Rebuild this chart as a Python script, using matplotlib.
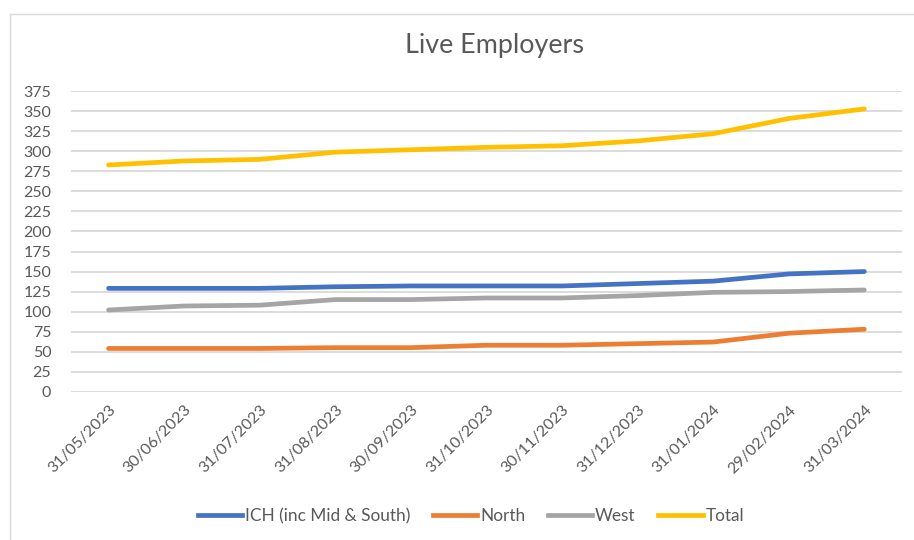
import numpy as np
import matplotlib.pyplot as plt
from matplotlib.lines import Line2D

plt.rcParams['font.family'] = ['Lato', 'DejaVu Sans']

dates = ["31/05/2023", "30/06/2023", "31/07/2023", "31/08/2023", "30/09/2023",
         "31/10/2023", "30/11/2023", "31/12/2023", "31/01/2024", "29/02/2024",
         "31/03/2024"]
ich = [129, 129, 129, 131, 132, 132, 132, 135, 138, 147, 150]
north = [54, 54, 54, 55, 55, 58, 58, 60, 62, 73, 78]
west = [102, 107, 108, 115, 115, 117, 117, 120, 124, 125, 127]
total = [283, 288, 290, 299, 302, 305, 307, 313, 322, 341, 353]

series = [("ICH (inc Mid & South)", ich, "#4472C4"),
          ("North", north, "#ED7D31"),
          ("West", west, "#A5A5A5"),
          ("Total", total, "#FFC000")]

fig = plt.figure(figsize=(9.14, 5.4), dpi=100)
ax = fig.add_axes([0.0774, 0.2746, 0.9096, 0.5564])

x = np.arange(len(dates))
for name, vals, col in series:
    ax.plot(x, vals, color=col, lw=3.4, solid_capstyle='round',
            solid_joinstyle='round', label=name)

ax.set_xlim(-0.5, len(dates) - 0.5)
ax.set_ylim(0, 375)
ax.set_yticks(np.arange(0, 376, 25))
ax.set_xticks(x)
ax.set_xticklabels(dates, rotation=45, ha='right', rotation_mode='anchor')
ax.grid(axis='y', color='#D9D9D9', lw=1.3)
ax.set_axisbelow(True)
for s in ax.spines.values():
    s.set_visible(False)
ax.tick_params(axis='both', length=0, colors='#595959', labelsize=11.5)
ax.tick_params(axis='y', pad=14)
ax.tick_params(axis='x', pad=8)

fig.text(0.541, 0.915, "Live Employers", ha='center', va='center',
         fontsize=19.4, color='#595959')

handles = [Line2D([], [], color=c, lw=3.4) for _, _, c in series]
fig.legend(handles, [n for n, _, _ in series], loc='center',
           bbox_to_anchor=(0.515, 0.044), ncol=4, frameon=False,
           fontsize=12.4, handlelength=2.6, handletextpad=0.15,
           columnspacing=1.3, labelcolor='#595959')

# chart frame (top and left edges)
fig.add_artist(Line2D([10 / 914, 1], [1 - 13.5 / 540] * 2, color='#D9D9D9', lw=1,
                      transform=fig.transFigure))
fig.add_artist(Line2D([10 / 914] * 2, [0, 1 - 13.5 / 540], color='#D9D9D9', lw=1,
                      transform=fig.transFigure))

fig.savefig("out.png", dpi=100)
